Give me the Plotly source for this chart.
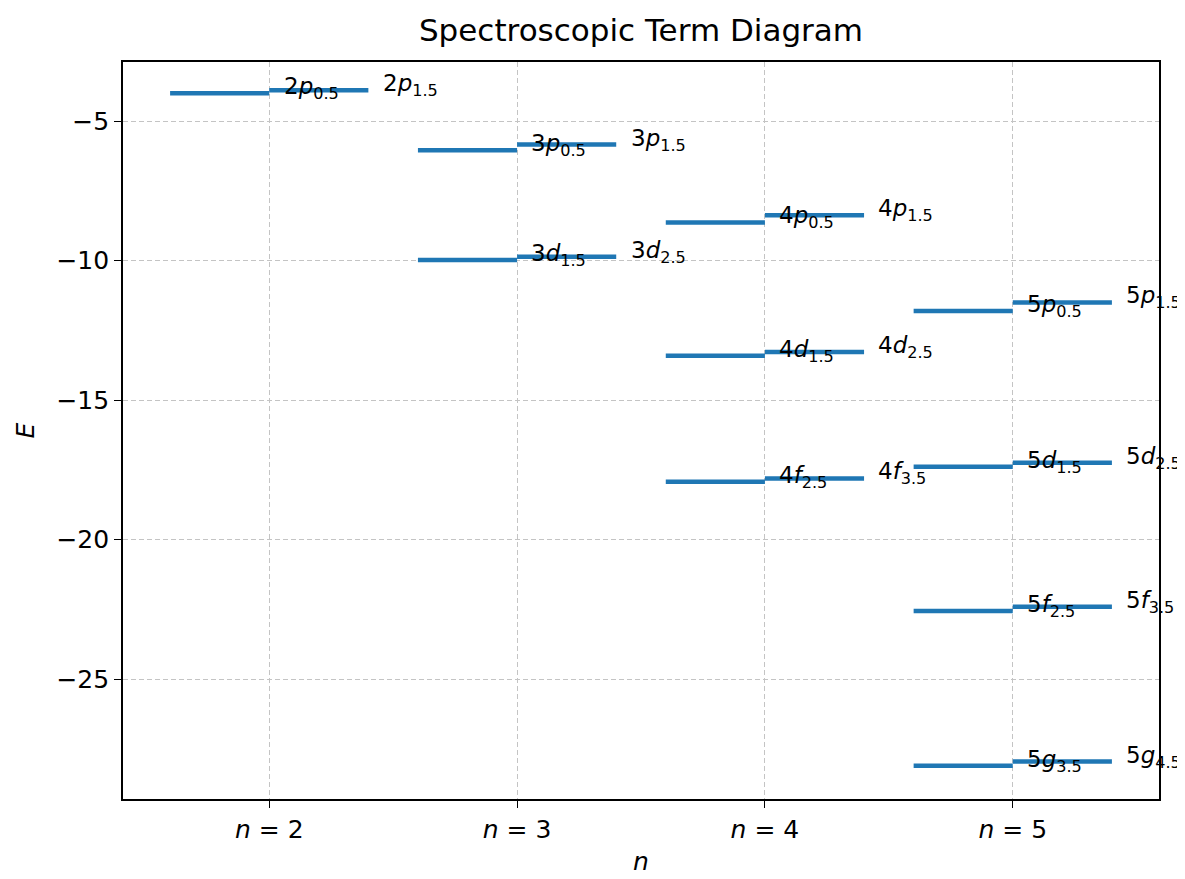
import plotly.graph_objects as go

# Data
n_values = [2, 3, 3, 4, 4, 4, 5, 5, 5, 5]
orbitals = ["p", "p", "d", "p", "d", "f", "p", "d", "f", "g"]
j_lower = [0.5, 0.5, 1.5, 0.5, 1.5, 2.5, 0.5, 1.5, 2.5, 3.5]
j_upper = [1.5, 1.5, 2.5, 1.5, 2.5, 3.5, 1.5, 2.5, 3.5, 4.5]
E_lower = [-4.00, -6.04, -9.98, -8.63, -13.41, -17.93, -11.81, -17.39, -22.56, -28.11]
E_upper = [-3.89, -5.84, -9.86, -8.37, -13.28, -17.81, -11.50, -17.25, -22.41, -27.96]
tick_n = [2, 3, 4, 5]
tick_labels = [f"<i>n</i> = {n}" for n in tick_n]
y_ticks = [-5, -10, -15, -20, -25]
y_tick_labels = ["−5", "−10", "−15", "−20", "−25"]

half_width = 0.4
label_offset = 0.05
color = "#1f77b4"
font = "DejaVu Sans, Arial, sans-serif"

xs, ys = [], []
for n, el, eu in zip(n_values, E_lower, E_upper):
    xs += [n - half_width, n, None, n, n + half_width, None]
    ys += [el, el, None, eu, eu, None]

fig = go.Figure()
fig.add_trace(go.Scatter(x=xs, y=ys, mode="lines",
                         line=dict(color=color, width=4.5),
                         showlegend=False, hoverinfo="skip"))

annotations = []
for n, orb, jl, ju, el, eu in zip(n_values, orbitals, j_lower, j_upper, E_lower, E_upper):
    for xpos, j, e in ((n + label_offset, jl, el), (n + half_width + label_offset, ju, eu)):
        annotations.append(dict(
            x=xpos, y=e, xref="x", yref="y",
            text=f"{n}<i>{orb}</i><sub>{j}</sub>",
            showarrow=False, xanchor="left", yanchor="middle", yshift=5,
            font=dict(size=23, color="black", family=font),
        ))

fig.update_layout(
    width=1185, height=879,
    margin=dict(l=115, r=34, t=54, b=88),
    paper_bgcolor="white", plot_bgcolor="white",
    title=dict(text="Spectroscopic Term Diagram", x=0.5, xanchor="center",
               xref="paper", yref="container",
               y=0.975, yanchor="middle",
               font=dict(size=31, color="black", family=font)),
    annotations=annotations,
    font=dict(family=font, color="black"),
)

fig.update_xaxes(
    range=[1.41, 5.59], tickvals=tick_n, ticktext=tick_labels,
    showgrid=True, gridcolor="#c4c4c4", griddash="5px,3px", gridwidth=1,
    showline=True, linecolor="black", linewidth=1.6, mirror=True,
    ticks="outside", ticklen=7, tickcolor="black", tickwidth=1.3,
    tickfont=dict(size=25), zeroline=False,
    title=dict(text="<i>n</i>", font=dict(size=25), standoff=10),
)
fig.update_yaxes(
    range=[-29.3, -2.88], tickvals=y_ticks, ticktext=y_tick_labels,
    showgrid=True, gridcolor="#c4c4c4", griddash="5px,3px", gridwidth=1,
    showline=True, linecolor="black", linewidth=1.6, mirror=True,
    ticks="outside", ticklen=7, tickcolor="black", tickwidth=1.3,
    tickfont=dict(size=25), zeroline=False,
    title=dict(text="<i>E</i>", font=dict(size=25), standoff=15),
)

fig.write_html("out.html")
